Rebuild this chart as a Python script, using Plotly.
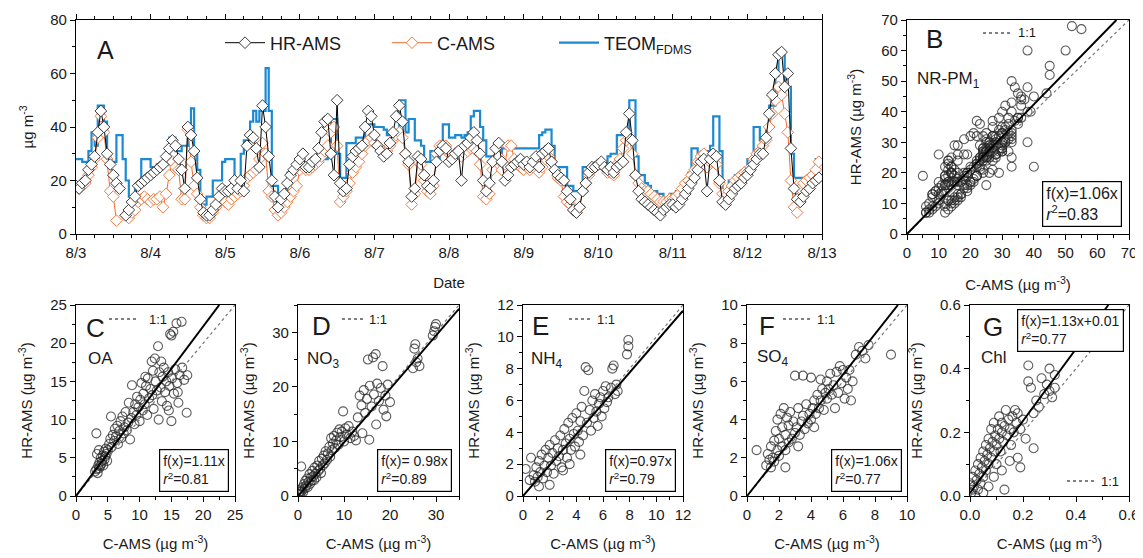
import pandas as pd
import plotly.graph_objects as go

# page body adds an 8 px margin, so the figure is 8 px smaller than the window
PAGE_W, PAGE_H, BODY_MARGIN = 1143, 558, 8
W, H = PAGE_W - BODY_MARGIN, PAGE_H - BODY_MARGIN

# ---------------- Panel A: hourly time series, 8/3 00:00 -> 8/12 23:00 ----------------
hr_ams = [
    18, 17, 19, 20, 24, 26, 29, 38, 46, 40, 30, 26, 22, 19, 17, None, 7, 9, 12, 14, 18, 19, 20, 21,
    22, 23, 24, 25, 26, 29, 32, 35, 33, 28, 24, 17, 40, 37, 31, 21, 13, 8, 7, 7, 9, 11, 14, 17,
    16, 16, 17, 20, 17, 20, 16, 33, 37, 36, 32, 25, 48, 40, 29, 20, 14, 10, 13, 15, 19, 22, 24, 26,
    28, 30, 25, 25, 27, 28, 32, 38, 42, 43, 30, 22, 50, 19, 16, 17, 26, 29, 31, 32, 33, 40, 46, 44,
    37, 33, 31, 29, 30, 34, 38, 44, 48, 42, 30, 27, 14, 17, 29, 28, 22, 18, 17, 20, 27, 31, 33, 32,
    27, 28, 30, 31, 20, 33, 34, 36, 38, 35, 30, 20, 16, 19, 27, 32, 34, 27, 20, 22, 25, 26, 27, 28,
    26, 27, 25, 27, 29, 25, 30, 31, 32, 27, 24, 22, 21, 20, 16, 13, 9, 8, 10, 16, 19, 23, 25, 25,
    26, 27, 25, 24, 25, 23, 25, 26, 27, 38, 45, 35, 22, 16, 13, 12, 11, 10, 9, 8, 7, 9, 10, 11,
    11, 10, 11, 13, 15, 17, 19, 21, 24, 27, 28, 16, 28, 30, 29, 20, 12, 11, 13, 15, 17, 18, 19, 21,
    22, 24, 26, 28, 30, 30, 36, 45, 52, 60, 67, 68, 55, 60, 32, 17, 13, 12, 14, 16, 17, 19, 20, 21,
]
c_ams = [
    18, 17, 18, 19, 22, 25, 28, 36, 44, 38, 28, 16, 14, 5, None, None, 7, 6, 8, 9, 12, 13, 14, 13,
    12, 13, 13, 14, 10, 15, 22, 27, 25, 24, 13, 13, 39, 27, 18, 15, 10, 7, 6, 6, 8, 10, 12, 14,
    12, 11, 13, 14, 15, 16, 18, 21, 22, 23, 24, 28, 34, 30, 16, 14, 9, 7, 8, 10, 12, 14, 16, 18,
    24, 26, 24, 24, 25, 26, 27, 29, 31, 33, 38, 40, 33, 12, 14, 16, 19, 23, 25, 27, 30, 33, 35, 36,
    34, 33, 32, 30, 31, 33, 35, 37, 38, 36, 30, 26, 11, 15, 27, 26, 20, 16, 15, 18, 30, 33, 32, 33,
    30, 29, 30, 31, 29, 30, 31, 32, 32, 31, 26, 14, 13, 15, 24, 28, 29, 24, 26, 33, 33, 28, 26, 25,
    24, 25, 24, 25, 26, 23, 25, 28, 29, 27, 24, 21, 20, 14, 12, 11, 9, 8, 10, 16, 19, 22, 24, 25,
    26, 26, 25, 23, 23, 22, 26, 28, 32, 35, 36, 30, 22, 19, 17, 16, 16, 15, 14, 13, 12, 12, 12, 13,
    13, 14, 15, 17, 19, 20, 22, 24, 27, 29, 30, 25, 27, 28, 26, 19, 15, 14, 16, 18, 20, 21, 22, 23,
    23, 25, 28, 30, 31, 33, 35, 40, 45, 50, 55, 52, 45, 38, 20, 10, 8, 17, 19, 20, 21, 22, 24, 27,
]
teom_fdms = [
    28, 28, 27, 27, 31, 38, 33, 48, 48, 42, 29, 27, 27, 37, 37, 28, 20, 14, 14, 18, 18, 28, 28, 28,
    25, 25, 26, 26, 26, 26, 36, 36, 31, 31, 33, 33, 36, 47, 30, 24, 11, 11, 14, 14, 20, 20, 20, 27,
    28, 28, 28, 20, 20, 30, 35, 35, 42, 46, 42, 46, 46, 62, 46, 18, 18, 14, 14, 14, 23, 23, 23, 23,
    24, 25, 25, 26, 26, 27, 27, 28, 28, 30, 43, 43, 30, 21, 21, 34, 34, 34, 36, 36, 36, 41, 41, 41,
    40, 40, 40, 39, 37, 37, 38, 38, 50, 50, 38, 43, 43, 35, 35, 33, 27, 27, 31, 29, 28, 34, 41, 41,
    36, 36, 37, 37, 36, 37, 38, 44, 46, 46, 40, 35, 29, 29, 29, 29, 26, 32, 32, 32, 32, 32, 32, 32,
    32, 32, 32, 32, 32, 37, 38, 39, 39, 33, 25, 25, 25, 25, 18, 18, 16, 16, 16, 25, 25, 25, 26, 26,
    25, 25, 25, 29, 30, 30, 37, 37, 37, 37, 50, 50, 29, 22, 22, 19, 18, 16, 16, 15, 15, 13, 13, 15,
    15, 16, 16, 17, 20, 23, 32, 32, 30, 30, 30, 31, 33, 44, 44, 31, 16, 16, 20, 20, 22, 22, 22, 22,
    28, 28, 40, 40, 35, 35, 40, 48, 48, 59, 68, 68, 55, 55, 30, 21, 21, 21, 21, 21, 22, 22, 28, 28,
]
start_date = "2012-08-03"
end_date = "2012-08-13"

# ---------------- Panels C-G: (C-AMS, HR-AMS) pairs ----------------
oa_pairs = [
    (3.0, 3.2), (3.2, 3.5), (3.4, 3.0), (3.5, 4.0), (3.6, 3.6), (3.7, 4.4), (3.8, 3.9), (3.9, 5.0),
    (4.0, 4.2), (4.1, 4.6), (4.2, 5.3), (4.3, 4.0), (4.4, 5.8), (4.5, 4.8), (4.6, 5.2), (4.7, 6.2),
    (4.8, 5.5), (4.9, 4.6), (5.0, 6.0), (3.2, 8.2), (3.3, 5.5), (3.6, 6.0), (5.2, 6.8), (5.4, 7.5),
    (5.5, 10.4), (5.6, 6.4), (5.8, 8.0), (6.0, 7.2), (6.1, 8.8), (6.3, 7.8), (6.5, 9.2), (6.6, 6.8),
    (6.8, 8.5), (7.0, 9.8), (7.1, 7.6), (7.3, 10.4), (7.5, 8.2), (7.6, 9.0), (7.8, 11.0), (8.0, 8.6),
    (8.2, 9.6), (8.3, 12.2), (8.5, 7.4), (8.7, 10.2), (8.8, 14.5), (9.0, 11.0), (9.2, 9.4), (9.3, 12.0),
    (9.5, 10.6), (9.6, 13.0), (9.8, 11.6), (10.0, 9.8), (10.1, 12.6), (10.3, 14.8), (10.5, 11.2),
    (10.6, 13.4), (10.8, 12.0), (11.0, 14.4), (11.2, 10.6), (11.3, 15.4), (11.5, 12.8), (11.7, 14.0),
    (11.9, 17.6), (12.0, 13.2), (12.2, 11.4), (12.4, 18.0), (12.5, 15.0), (12.7, 13.8), (12.9, 19.6),
    (13.0, 10.0), (13.1, 16.2), (13.3, 14.2), (13.5, 12.4), (13.6, 15.6), (13.8, 16.8), (14.0, 13.6),
    (14.2, 15.0), (14.3, 11.8), (14.5, 16.2), (14.7, 14.4), (14.8, 21.2), (15.0, 9.8), (15.0, 21.0),
    (15.1, 15.4), (15.3, 21.5), (15.4, 13.4), (15.6, 16.6), (15.8, 22.6), (15.9, 14.8), (16.1, 12.2),
    (16.3, 15.8), (16.6, 22.8), (16.7, 16.8), (17.0, 15.2), (17.4, 10.9), (17.5, 15.8), (16.0, 13.6),
    (14.6, 11.2), (13.4, 17.6), (12.1, 16.4), (10.9, 15.6),
]
no3_pairs = [
    (0.2, 0.3), (0.3, 0.8), (0.5, 0.4), (0.6, 1.2), (0.7, 5.4), (0.8, 0.9), (1.0, 1.6), (1.1, 0.7),
    (1.3, 2.2), (1.5, 1.4), (1.6, 2.8), (1.8, 1.9), (2.0, 3.2), (2.1, 1.6), (2.3, 2.6), (2.5, 4.0),
    (2.6, 2.2), (2.8, 3.4), (3.0, 2.8), (3.1, 4.6), (3.3, 3.6), (3.5, 2.9), (3.6, 5.2), (3.8, 4.1),
    (4.0, 3.4), (4.2, 5.6), (4.4, 4.6), (4.6, 6.4), (4.8, 5.0), (5.0, 4.2), (5.2, 6.8), (5.4, 5.6),
    (5.6, 7.4), (5.8, 6.0), (6.0, 8.2), (6.3, 6.6), (6.5, 7.8), (6.8, 9.0), (7.0, 7.2), (7.2, 10.6),
    (7.4, 8.4), (7.6, 9.6), (7.8, 11.0), (8.0, 8.8), (8.3, 10.2), (8.5, 11.6), (8.8, 9.4), (9.0, 12.2),
    (9.2, 10.8), (9.5, 11.8), (9.8, 15.5), (10.0, 10.0), (10.3, 12.4), (10.6, 11.2), (11.0, 12.8),
    (11.4, 10.6), (11.8, 11.8), (12.2, 11.0), (12.6, 10.2), (13.0, 14.4), (13.4, 18.4), (13.8, 16.6),
    (14.0, 11.5), (14.3, 19.4), (14.6, 15.2), (15.0, 17.8), (15.2, 25.0), (15.5, 10.3), (15.6, 20.2),
    (16.0, 16.4), (16.3, 25.4), (16.5, 18.6), (16.9, 26.0), (17.0, 13.1), (17.2, 20.6), (17.6, 17.4),
    (18.0, 19.8), (18.4, 23.8), (18.6, 15.8), (19.0, 18.4), (19.2, 14.6), (19.5, 20.4), (20.0, 17.2),
    (25.0, 23.4), (25.3, 27.0), (25.5, 27.8), (25.7, 24.5), (26.0, 25.2), (26.4, 23.8), (29.3, 29.4),
    (29.6, 30.2), (29.8, 31.0), (30.0, 31.5),
]
nh4_pairs = [
    (0.2, 1.7), (0.5, 1.0), (0.6, 2.4), (0.8, 1.3), (0.9, 0.9), (1.0, 1.8), (1.1, 1.2), (1.2, 2.2),
    (1.3, 1.5), (1.4, 2.6), (1.5, 1.1), (1.6, 1.9), (1.7, 2.9), (1.8, 1.5), (1.9, 2.4), (2.0, 3.2),
    (2.1, 1.9), (2.2, 2.7), (2.3, 1.4), (2.4, 3.5), (2.5, 2.2), (2.6, 3.0), (2.7, 2.5), (2.8, 3.8),
    (2.9, 1.8), (3.0, 2.9), (3.1, 4.2), (3.2, 3.3), (3.3, 2.4), (3.4, 4.6), (3.5, 3.6), (3.6, 2.9),
    (3.7, 4.9), (3.8, 3.9), (3.9, 3.1), (4.0, 5.2), (4.1, 4.1), (4.2, 3.4), (4.3, 4.7), (4.4, 5.6),
    (4.5, 3.8), (4.6, 6.6), (4.7, 8.1), (4.8, 4.6), (4.9, 7.9), (5.0, 5.4), (5.1, 4.1), (5.2, 6.0),
    (5.3, 4.9), (5.4, 6.4), (5.5, 5.3), (5.6, 4.4), (5.7, 5.8), (5.8, 6.2), (5.9, 5.0), (6.0, 6.6),
    (6.1, 5.5), (6.2, 6.9), (6.3, 5.9), (6.4, 6.2), (6.6, 6.8), (6.7, 8.0), (6.8, 8.2), (6.9, 6.4),
    (7.0, 7.0), (7.1, 6.6), (7.8, 8.9), (7.9, 9.4), (7.9, 9.8), (2.0, 0.7), (3.0, 1.6), (3.5, 2.0),
    (4.3, 2.6), (1.2, 0.6),
]
so4_pairs = [
    (0.6, 2.4), (1.2, 1.6), (1.3, 2.2), (1.4, 1.9), (1.5, 2.6), (1.5, 1.5), (1.6, 2.0), (1.7, 2.9),
    (1.7, 1.8), (1.8, 3.4), (1.9, 2.4), (1.9, 4.0), (2.0, 2.1), (2.0, 3.0), (2.1, 4.3), (2.2, 2.6),
    (2.2, 3.6), (2.3, 4.6), (2.4, 2.4), (2.4, 3.2), (2.5, 4.1), (2.6, 2.8), (2.6, 3.7), (2.7, 4.4),
    (2.8, 3.0), (2.9, 3.9), (3.0, 3.3), (3.0, 6.3), (3.1, 3.6), (3.2, 4.6), (3.3, 3.2), (3.4, 3.9),
    (3.5, 6.3), (3.5, 4.2), (3.6, 3.5), (3.7, 4.8), (3.8, 3.8), (3.9, 4.3), (4.0, 6.2), (4.0, 4.0),
    (4.1, 4.6), (4.2, 5.0), (4.3, 4.3), (4.4, 5.3), (4.5, 4.6), (4.6, 6.1), (4.6, 5.0), (4.7, 5.6),
    (4.8, 4.5), (4.9, 5.4), (5.0, 6.0), (5.0, 5.1), (5.1, 5.6), (5.2, 6.4), (5.3, 5.3), (5.4, 5.8),
    (5.5, 4.6), (5.6, 6.5), (5.7, 5.4), (5.8, 6.8), (5.9, 5.9), (6.0, 6.6), (6.1, 5.1), (6.2, 6.2),
    (6.3, 5.6), (6.4, 6.6), (6.5, 5.0), (6.6, 6.0), (6.8, 7.4), (7.0, 7.8), (7.2, 7.6), (7.4, 7.2),
    (7.6, 7.9), (9.0, 7.4), (2.4, 1.5), (3.2, 2.6), (4.2, 3.6),
]
chl_pairs = [
    (0.00, 0.04), (0.005, 0.01), (0.01, 0.02), (0.01, 0.06), (0.015, 0.03), (0.02, 0.00), (0.02, 0.08),
    (0.025, 0.05), (0.03, 0.02), (0.03, 0.10), (0.035, 0.07), (0.04, 0.04), (0.04, 0.12), (0.045, 0.09),
    (0.05, 0.06), (0.05, 0.14), (0.055, 0.11), (0.06, 0.08), (0.06, 0.16), (0.065, 0.13), (0.07, 0.10),
    (0.07, 0.18), (0.075, 0.15), (0.08, 0.12), (0.08, 0.21), (0.085, 0.17), (0.09, 0.14), (0.09, 0.23),
    (0.095, 0.19), (0.10, 0.16), (0.10, 0.10), (0.105, 0.21), (0.11, 0.18), (0.11, 0.25), (0.115, 0.14),
    (0.12, 0.20), (0.12, 0.23), (0.125, 0.17), (0.13, 0.22), (0.13, 0.02), (0.135, 0.27), (0.14, 0.19),
    (0.145, 0.24), (0.15, 0.21), (0.155, 0.16), (0.16, 0.25), (0.165, 0.20), (0.17, 0.27), (0.175, 0.23),
    (0.18, 0.12), (0.18, 0.26), (0.19, 0.09), (0.19, 0.21), (0.20, 0.24), (0.21, 0.18), (0.22, 0.41),
    (0.22, 0.36), (0.23, 0.34), (0.24, 0.15), (0.24, 0.26), (0.25, 0.30), (0.26, 0.28), (0.27, 0.37),
    (0.28, 0.32), (0.29, 0.35), (0.30, 0.40), (0.30, 0.33), (0.31, 0.31), (0.32, 0.38), (0.32, 0.34),
    (0.07, 0.03), (0.05, 0.01), (0.09, 0.06), (0.12, 0.08), (0.15, 0.11),
]

panel_letters = ["B", "C", "D", "E", "F", "G"]
species_labels = ["NR-PM<sub>1</sub>", "OA", "NO<sub>3</sub>", "NH<sub>4</sub>", "SO<sub>4</sub>", "Chl"]
fit_slopes = [1.06, 1.11, 0.98, 0.97, 1.06, 1.13]
fit_intercepts = [0.0, 0.0, 0.0, 0.0, 0.0, 0.01]
fit_texts = ["f(x)=1.06x", "f(x)=1.11x", "f(x)= 0.98x", "f(x)=0.97x", "f(x)=1.06x", "f(x)=1.13x+0.01"]
r2_values = ["0.83", "0.81", "0.89", "0.79", "0.77", "0.77"]
axis_max = [70, 25, 35, 12, 10, 0.6]
axis_dtick = [10, 5, 10, 2, 2, 0.2]

# ---------------- layout geometry (window pixels -> paper fractions) ----------------
def fx(p):
    return (p - BODY_MARGIN) / W

def fy(p):
    return 1 - (p - BODY_MARGIN) / H

FONT = "Liberation Sans, Arial, sans-serif"
INK = "#1a1a1a"

times = pd.date_range(start_date, periods=len(hr_ams), freq="h")
fig = go.Figure()

fig.add_trace(go.Scatter(
    x=times, y=teom_fdms, name="TEOM<sub>FDMS</sub>", mode="lines", line_shape="hv",
    line=dict(color="#1b8ad3", width=2.2), xaxis="x", yaxis="y"))
fig.add_trace(go.Scatter(
    x=times, y=c_ams, name="C-AMS", mode="lines+markers", connectgaps=False,
    line=dict(color="#f26a2e", width=1),
    marker=dict(symbol="diamond", size=9, color="white", line=dict(color="#f47a40", width=1)),
    xaxis="x", yaxis="y"))
fig.add_trace(go.Scatter(
    x=times, y=hr_ams, name="HR-AMS", mode="lines+markers", connectgaps=False,
    line=dict(color="black", width=1),
    marker=dict(symbol="diamond", size=9, color="white", line=dict(color="#3a3a3a", width=1)),
    xaxis="x", yaxis="y"))

# scatter data per panel
bx = [c for c, h in zip(c_ams, hr_ams) if c is not None and h is not None]
by = [h for c, h in zip(c_ams, hr_ams) if c is not None and h is not None]
scatter_sets = [(bx, by)]
for pairs in [oa_pairs, no3_pairs, nh4_pairs, so4_pairs, chl_pairs]:
    scatter_sets.append(([p[0] for p in pairs], [p[1] for p in pairs]))

for i, (sx, sy) in enumerate(scatter_sets):
    ax = f"x{i + 2}"
    ay = f"y{i + 2}"
    m = axis_max[i]
    fig.add_trace(go.Scatter(
        x=sx, y=sy, mode="markers", showlegend=False,
        marker=dict(symbol="circle-open", size=9, color="rgba(40,40,40,0.75)", line=dict(width=1.1)),
        xaxis=ax, yaxis=ay))
    # 1:1 line
    fig.add_trace(go.Scatter(
        x=[0, m], y=[0, m], mode="lines", showlegend=False,
        line=dict(color="#777777", width=1.2, dash="dot"), xaxis=ax, yaxis=ay))
    # fitted line
    s, b = fit_slopes[i], fit_intercepts[i]
    x_end = min(m, (m - b) / s)
    fig.add_trace(go.Scatter(
        x=[0, x_end], y=[b, s * x_end + b], mode="lines", showlegend=False,
        line=dict(color="black", width=2), xaxis=ax, yaxis=ay))

# ---------------- axes ----------------
def axis(**kw):
    base = dict(showline=True, linecolor="black", linewidth=1.2, ticks="outside", ticklen=5,
                tickwidth=1.2, tickcolor="black", showgrid=False, zeroline=False, mirror=True,
                automargin=False, tickfont=dict(family=FONT, size=15, color=INK))
    base.update(kw)
    return base

top_y = [fy(234), fy(20)]
bot_y = [fy(496), fy(305)]
x_doms = [[fx(907), fx(1129)], [fx(76), fx(235)], [fx(298), fx(459)], [fx(523), fx(683)],
          [fx(747), fx(907)], [fx(970), fx(1129)]]

layout_axes = {}
layout_axes["xaxis"] = axis(
    domain=[fx(76), fx(822)], anchor="y", type="date", range=[start_date, end_date],
    dtick=86400000, tickformat="%-m/%-d", mirror="allticks",
    minor=dict(ticks="outside", ticklen=3, dtick=6 * 3600000, tickcolor="black", showgrid=False),
    title=dict(text="Date", font=dict(family=FONT, size=15, color=INK), standoff=17))
layout_axes["yaxis"] = axis(
    domain=top_y, anchor="x", range=[0, 80], dtick=20,
    minor=dict(ticks="outside", ticklen=3, dtick=10, tickcolor="black", showgrid=False),
    title=dict(text="µg m<sup>-3</sup>", font=dict(family=FONT, size=15, color=INK), standoff=12))

for i in range(6):
    n = i + 2
    m = axis_max[i]
    ydom = top_y if i == 0 else bot_y
    fmt = ".1f" if m < 1 else ""
    title_font = dict(family=FONT, size=15, color=INK)
    layout_axes[f"xaxis{n}"] = axis(
        domain=x_doms[i], anchor=f"y{n}", range=[0, m], dtick=axis_dtick[i], tickformat=fmt,
        minor=dict(ticks="outside", ticklen=3, dtick=axis_dtick[i] / 2, tickcolor="black", showgrid=False),
        title=dict(text="C-AMS (µg m<sup>-3</sup>)", font=title_font, standoff=19 if i == 0 else 16))
    layout_axes[f"yaxis{n}"] = axis(
        domain=ydom, anchor=f"x{n}", range=[0, m], dtick=axis_dtick[i], tickformat=fmt,
        minor=dict(ticks="outside", ticklen=3, dtick=axis_dtick[i] / 2, tickcolor="black", showgrid=False),
        title=dict(text="HR-AMS (µg m<sup>-3</sup>)", font=title_font, standoff=15 if i == 0 else 13))

# ---------------- annotations and 1:1 keys ----------------
def note(text, x, y, size, **kw):
    d = dict(text=text, x=fx(x), y=fy(y), xref="paper", yref="paper", showarrow=False,
             xanchor="center", yanchor="middle", font=dict(family=FONT, size=size, color=INK))
    d.update(kw)
    return d

annotations = [note("A", 105, 50, 25)]
letter_pos = [(934, 39), (95, 328), (321, 326), (540, 326), (767, 326), (993, 327)]
species_pos = [(948, 80), (100, 358), (323, 360), (547, 360), (773, 358), (994, 357)]
box_pos = [(1082, 204), (194, 470), (414, 470), (640, 470), (866, 470), (1070, 330)]
key_pos = [  # dotted key segment start, end, y ; text x
    (983, 1010, 33, 1027), (109, 137, 319, 158), (342, 364, 319, 378), (569, 591, 319, 606),
    (783, 810, 319, 826), (1067, 1095, 481, 1110)]

shapes = []
for i in range(6):
    lx, ly = letter_pos[i]
    annotations.append(note(panel_letters[i], lx, ly, 26))
    sx_, sy_ = species_pos[i]
    annotations.append(note(species_labels[i], sx_, sy_, 17))
    bxp, byp = box_pos[i]
    annotations.append(note(
        f"{fit_texts[i]}<br><i>r</i><sup>2</sup>=" + r2_values[i], bxp, byp, 16 if i == 0 else 14,
        align="left", bordercolor="black", borderwidth=1.2, borderpad=3, bgcolor="white"))
    x0, x1, yk, tx = key_pos[i]
    shapes.append(dict(type="line", xref="paper", yref="paper", x0=fx(x0), x1=fx(x1), y0=fy(yk), y1=fy(yk),
                       line=dict(color="#555555", width=1.3, dash="dot")))
    annotations.append(note("1:1", tx, yk, 13))

fig.update_layout(
    width=W, height=H, margin=dict(l=0, r=0, t=0, b=0),
    paper_bgcolor="white", plot_bgcolor="white",
    font=dict(family=FONT, color=INK),
    showlegend=True,
    legend=dict(orientation="h", x=fx(220), y=fy(43), xanchor="left", yanchor="middle",
                traceorder="reversed", bgcolor="rgba(0,0,0,0)", itemwidth=40,
                entrywidth=112, entrywidthmode="pixels",
                font=dict(family=FONT, size=18, color=INK)),
    annotations=annotations, shapes=shapes,
    **layout_axes,
)

fig.write_html("out.html")
